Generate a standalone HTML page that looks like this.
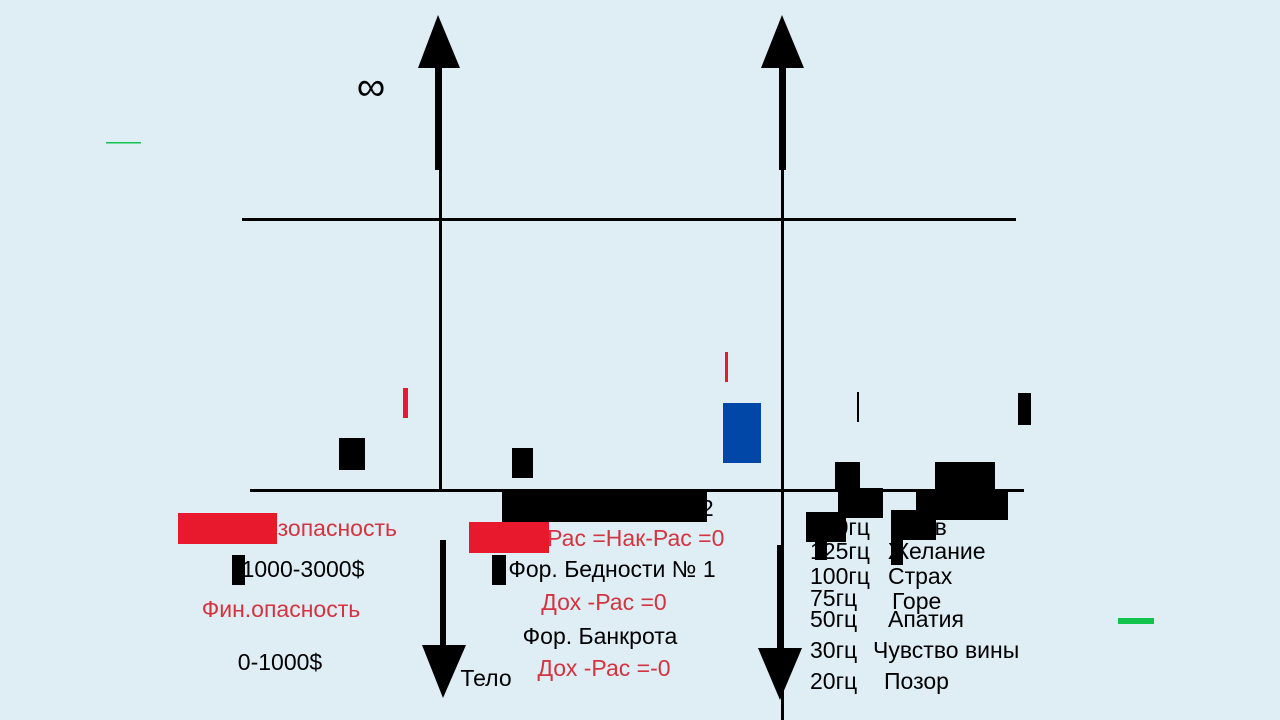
<!DOCTYPE html>
<html><head><meta charset="utf-8"><style>
html,body{margin:0;padding:0;background:#dfedf5;}
svg{display:block;font-family:"Liberation Sans","DejaVu Sans",sans-serif;}
</style></head><body>
<svg width="1280" height="720" viewBox="0 0 1280 720">
<rect width="1280" height="720" fill="#dfedf5"/>
<!-- horizontal lines -->
<rect x="242" y="218" width="774" height="3" fill="#000"/>
<rect x="250" y="489" width="774" height="3" fill="#000"/>
<!-- left axis -->
<g>
<polygon points="438,15 418,68 460,68" fill="#000"/>
<rect x="435" y="60" width="7" height="110" fill="#000"/>
<rect x="439" y="170" width="3" height="320" fill="#000"/>
<rect x="440" y="540" width="6" height="110" fill="#000"/>
<polygon points="443,698 422,645 466,645" fill="#000"/>
</g>
<!-- right axis -->
<g>
<polygon points="782,15 761,68 804,68" fill="#000"/>
<rect x="779" y="60" width="7" height="110" fill="#000"/>
<rect x="781" y="170" width="3" height="550" fill="#000"/>
<rect x="777" y="545" width="6" height="105" fill="#000"/>
<polygon points="780,700 758,648 802,648" fill="#000"/>
</g>
<text x="371" y="100" font-size="40" text-anchor="middle" fill="#000">∞</text>
<rect x="106" y="142" width="35" height="1.5" fill="#12c44e"/>
<rect x="1118" y="618" width="36" height="6" fill="#12c44e"/>
<!-- left texts -->
<g font-size="23" text-anchor="middle">
<text x="300" y="536" fill="#d3343f">Фин.безопасность</text>
<text x="303" y="577" fill="#000">1000-3000$</text>
<text x="281" y="617" fill="#d3343f">Фин.опасность</text>
<text x="280" y="670" fill="#000">0-1000$</text>
<text x="486" y="686" fill="#000">Тело</text>
</g>
<g font-size="23" text-anchor="middle">
<text x="610" y="516" fill="#000">Фор. Бедности № 2</text>
<text x="612" y="546" fill="#d3343f">Дох-Рас =Нак-Рас =0</text>
<text x="612" y="577" fill="#000">Фор. Бедности № 1</text>
<text x="604" y="610" fill="#d3343f">Дох -Рас =0</text>
<text x="600" y="644" fill="#000">Фор. Банкрота</text>
<text x="604" y="676" fill="#d3343f">Дох -Рас =-0</text>
</g>
<g font-size="23" fill="#000">
<text x="810" y="535">150гц</text><text x="898" y="535">Гнев</text>
<text x="810" y="559">125гц</text><text x="888" y="559">Желание</text>
<text x="810" y="584">100гц</text><text x="888" y="584">Страх</text>
<text x="810" y="606">75гц</text><text x="892" y="609">Горе</text>
<text x="810" y="627">50гц</text><text x="888" y="627">Апатия</text>
<text x="810" y="658">30гц</text><text x="873" y="658">Чувство вины</text>
<text x="810" y="689">20гц</text><text x="884" y="689">Позор</text>
</g>
<!-- redaction blocks -->
<g fill="#000">
<rect x="339" y="438" width="26" height="32"/>
<rect x="512" y="448" width="21" height="30"/>
<rect x="502" y="490" width="205" height="32"/>
<rect x="835" y="462" width="25" height="30"/>
<rect x="838" y="488" width="45" height="30"/>
<rect x="806" y="512" width="40" height="30"/>
<rect x="815" y="540" width="12" height="20"/>
<rect x="935" y="462" width="60" height="30"/>
<rect x="916" y="490" width="92" height="30"/>
<rect x="891" y="510" width="45" height="30"/>
<rect x="891" y="540" width="12" height="25"/>
<rect x="1018" y="393" width="13" height="32"/>
<rect x="857" y="392" width="2" height="30"/>
<rect x="232" y="555" width="13" height="30"/>
<rect x="492" y="555" width="14" height="30"/>
</g>
<g fill="#e8192c">
<rect x="403" y="388" width="5" height="30"/>
<rect x="725" y="352" width="3" height="30"/>
<rect x="178" y="513" width="99" height="31"/>
<rect x="469" y="522" width="80" height="31"/>
</g>
<rect x="723" y="403" width="38" height="60" fill="#0047a8"/>
</svg>
</body></html>
